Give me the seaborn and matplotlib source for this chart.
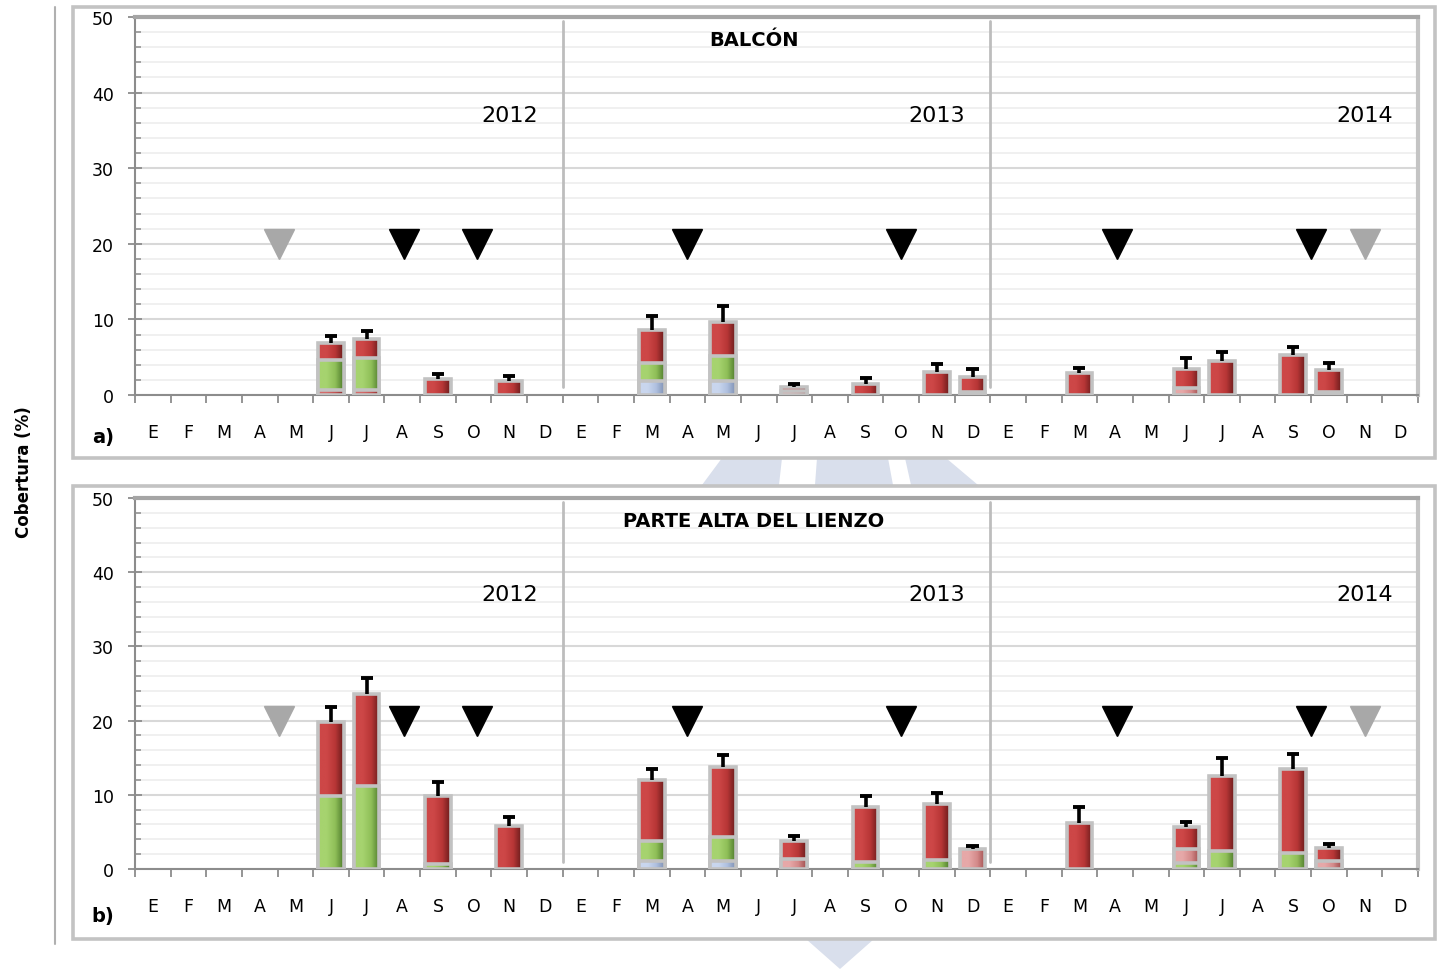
import numpy as np
import pandas as pd
import matplotlib
matplotlib.use("Agg")
import matplotlib.pyplot as plt
import seaborn as sns
from matplotlib.colors import LinearSegmentedColormap
from matplotlib.patches import Rectangle, Polygon
from matplotlib.lines import Line2D
from matplotlib.ticker import MultipleLocator

# ---------------------------------------------------------------- data
meses = ["E", "F", "M", "A", "M", "J", "J", "A", "S", "O", "N", "D"] * 3
anios = ["2012", "2013", "2014"]
titulos = ["BALCÓN", "PARTE ALTA DEL LIENZO"]
paneles = ["a)", "b)"]

# month index (0 = January 2012) of every sampled bar
mes_a = [5, 6, 8, 10, 14, 16, 18, 20, 22, 23, 26, 29, 30, 32, 33]
otros_a = [0.6, 0.6, 0, 0, 0, 0, 0, 0, 0, 0, 0, 0, 0, 0, 0]
azul_a = [0, 0, 0, 0, 1.9, 1.9, 0, 0, 0, 0, 0, 0, 0, 0, 0]
verde_a = [4.0, 4.3, 0, 0, 2.3, 3.3, 0, 0, 0, 0, 0, 0, 0, 0, 0]
rosa_a = [0, 0, 0, 0, 0, 0, 0.5, 0, 0, 0.4, 0, 0.9, 0, 0, 0.4]
rojo_a = [2.3, 2.5, 2.1, 1.9, 4.4, 4.5, 0.5, 1.5, 3.0, 2.0, 2.9, 2.5, 4.5, 5.3, 2.9]
error_a = [0.9, 1.0, 0.7, 0.6, 1.9, 2.1, 0.4, 0.7, 1.1, 1.0, 0.7, 1.5, 1.2, 1.0, 0.9]

mes_b = [5, 6, 8, 10, 14, 16, 18, 20, 22, 23, 26, 29, 30, 32, 33]
otros_b = [0] * 15
azul_b = [0, 0, 0, 0, 1.1, 1.1, 0, 0, 0, 0, 0, 0, 0, 0, 0]
verde_b = [9.8, 11.2, 0.7, 0, 2.7, 3.2, 0, 0.9, 1.2, 0, 0, 0.8, 2.4, 2.2, 0]
rosa_b = [0, 0, 0, 0, 0, 0, 1.3, 0, 0, 2.7, 0, 1.9, 0, 0, 1.1]
rojo_b = [10.0, 12.4, 9.1, 5.8, 8.2, 9.4, 2.5, 7.4, 7.6, 0, 6.2, 2.9, 10.2, 11.3, 1.7]
error_b = [2.0, 2.1, 1.9, 1.2, 1.5, 1.6, 0.6, 1.5, 1.4, 0.4, 2.1, 0.8, 2.3, 2.0, 0.6]

# interventions (black) and reference dates (grey), in month units
interv_negro = [7.05, 9.1, 15.0, 21.0, 27.05, 32.5]
interv_gris = [3.55, 34.0]
nivel_interv = 20

# ---------------------------------------------------------------- style
sns.set_theme(style="white")
plt.rcParams["font.family"] = ["DejaVu Sans"]
plt.rcParams["text.color"] = "black"
plt.rcParams["xtick.labelcolor"] = "black"
plt.rcParams["ytick.labelcolor"] = "black"

capas = [  # bottom -> top
    ("otros", ["#d46a6a", "#c25252", "#8a2f2f"]),
    ("azul", ["#c9d6ee", "#afc0df", "#7d8fb3"]),
    ("verde", ["#a6d36f", "#8fbf58", "#4d7a2b"]),
    ("rosa", ["#e6a8a8", "#d48a8a", "#9e4b4b"]),
    ("rojo", ["#cd4747", "#b83636", "#681c1c"]),
]
borde = "#c2c2c2"

fig = plt.figure(figsize=(14.39, 9.70), dpi=100)
W, H = 1439, 970


def fx(px):
    return px / W


def fy(py):
    return 1 - py / H


# faint emblem behind the panels
marca = "#d9dfec"
for pts in (
    [(702, 486), (722, 459), (782, 459), (779, 486)],
    [(817, 459), (888, 459), (893, 486), (815, 486)],
    [(905, 459), (946, 459), (978, 486), (911, 486)],
    [(806, 940), (874, 940), (840, 970)],
):
    fig.add_artist(Polygon([(fx(x), fy(y)) for x, y in pts], closed=True,
                           transform=fig.transFigure, facecolor=marca,
                           edgecolor="none", zorder=-3))

# panel frames
for (top, bot) in ((8, 459), (487, 940)):
    fig.add_artist(Rectangle((fx(73), fy(bot)), fx(1435) - fx(73), fy(top) - fy(bot),
                             transform=fig.transFigure, facecolor="white",
                             edgecolor="#c3c3c3", lw=2.6, zorder=-2))

# vertical rule next to the y label
fig.add_artist(Line2D([fx(55), fx(55)], [fy(945), fy(8)], transform=fig.transFigure,
                      color="#b0b0b0", lw=1.5))
fig.text(fx(24), fy(472), "Cobertura (%)", rotation=90, ha="center", va="center",
         fontsize=12, fontweight="bold")

ax_pos = [(18, 396), (499, 870)]
datos = [
    (mes_a, [otros_a, azul_a, verde_a, rosa_a, rojo_a], error_a),
    (mes_b, [otros_b, azul_b, verde_b, rosa_b, rojo_b], error_b),
]
label_y = [438, 917]

for k, ((top, bot), (mes, segs, err)) in enumerate(zip(ax_pos, datos)):
    ax = fig.add_axes([fx(135), fy(bot), fx(1418) - fx(135), fy(top) - fy(bot)])
    ax.set_facecolor("white")

    segs = np.array(segs, dtype=float)
    cum = np.cumsum(segs, axis=0)
    total = cum[-1]

    # draw from the top layer down so lower segments overlay the taller bars
    for li in range(len(capas) - 1, -1, -1):
        nombre, cols = capas[li]
        mask = segs[li] > 0
        if not mask.any():
            continue
        df = pd.DataFrame({"mes": np.array(mes)[mask], "valor": cum[li][mask]})
        n0 = len(ax.patches)
        sns.barplot(data=df, x="mes", y="valor", order=list(range(36)),
                    color=cols[1], saturation=1, width=0.72, errorbar=None, ax=ax)
        cmap = LinearSegmentedColormap.from_list(nombre, [cols[0], cols[0], cols[1], cols[2]])
        grad = np.linspace(0, 1, 64).reshape(1, -1)
        z = 3 + (len(capas) - li)
        for p in ax.patches[n0:]:
            x0, y0, w, h = p.get_x(), p.get_y(), p.get_width(), p.get_height()
            if h <= 0:
                continue
            ax.imshow(grad, extent=[x0, x0 + w, y0, y0 + h], cmap=cmap,
                      aspect="auto", origin="lower", zorder=z, interpolation="bilinear")
            p.set_facecolor("none")
            p.set_edgecolor(borde)
            p.set_linewidth(2.6)
            p.set_zorder(z + 0.5)

    # upper error whiskers
    mes_arr = np.array(mes, dtype=float)
    err = np.array(err)
    ax.vlines(mes_arr, total, total + err, color="black", lw=2.6, zorder=20)
    ax.hlines(total + err, mes_arr - 0.17, mes_arr + 0.17, color="black", lw=2.8, zorder=20)

    # intervention markers
    ax.plot(interv_negro, [nivel_interv] * len(interv_negro), "v", color="black",
            ms=21, zorder=15)
    ax.plot(interv_gris, [nivel_interv] * len(interv_gris), "v", color="#a8a8a8",
            ms=21, zorder=15)

    # year separators
    for xs in (11.5, 23.5):
        ax.axvline(xs, ymin=0.02, ymax=0.99, color="#bdbdbd", lw=2, zorder=2)

    ax.set_xlim(-0.5, 35.5)
    ax.set_ylim(0, 50)
    ax.set_xlabel("")
    ax.set_ylabel("")

    ax.set_yticks(np.arange(0, 51, 10))
    ax.yaxis.set_minor_locator(MultipleLocator(2))
    ax.grid(axis="y", which="major", color="#d8d8d8", lw=1.5, zorder=0)
    ax.grid(axis="y", which="minor", color="#eeeeee", lw=1.2, zorder=0)
    ax.set_axisbelow(True)

    ax.set_xticks(np.arange(36))
    ax.set_xticklabels(meses)
    ax.set_xticks(np.arange(-0.5, 36, 1), minor=True)
    ax.tick_params(axis="x", which="major", length=0, pad=20, labelsize=12.5,
                   labelcolor="black")
    ax.tick_params(axis="x", which="minor", length=6, width=1.3, color="#8c8c8c",
                   direction="out", bottom=True)
    ax.tick_params(axis="y", which="major", length=10, width=1.3, color="#8c8c8c",
                   direction="inout", pad=10, labelsize=12.5, left=True,
                   labelcolor="black")
    ax.tick_params(axis="y", which="minor", length=4, width=1.1, color="#8c8c8c",
                   direction="in", left=True)

    for s in ("left", "bottom"):
        ax.spines[s].set_color("#8c8c8c")
        ax.spines[s].set_linewidth(1.5)
    ax.spines["top"].set_color("#a5a5a5")
    ax.spines["top"].set_linewidth(3)
    ax.spines["right"].set_color("#c4c4c4")
    ax.spines["right"].set_linewidth(3)

    for xi, anio in zip((10, 22, 34), anios):
        ax.text(xi, 37, anio, ha="center", va="center", fontsize=16, color="black")
    ax.text(0.4825, 0.94, titulos[k], transform=ax.transAxes, ha="center",
            va="center", fontsize=14, fontweight="bold", color="black")

    fig.text(fx(103), fy(label_y[k]), paneles[k], ha="center", va="center",
             fontsize=14, fontweight="bold", color="black")

fig.savefig("out.png", dpi=100)
